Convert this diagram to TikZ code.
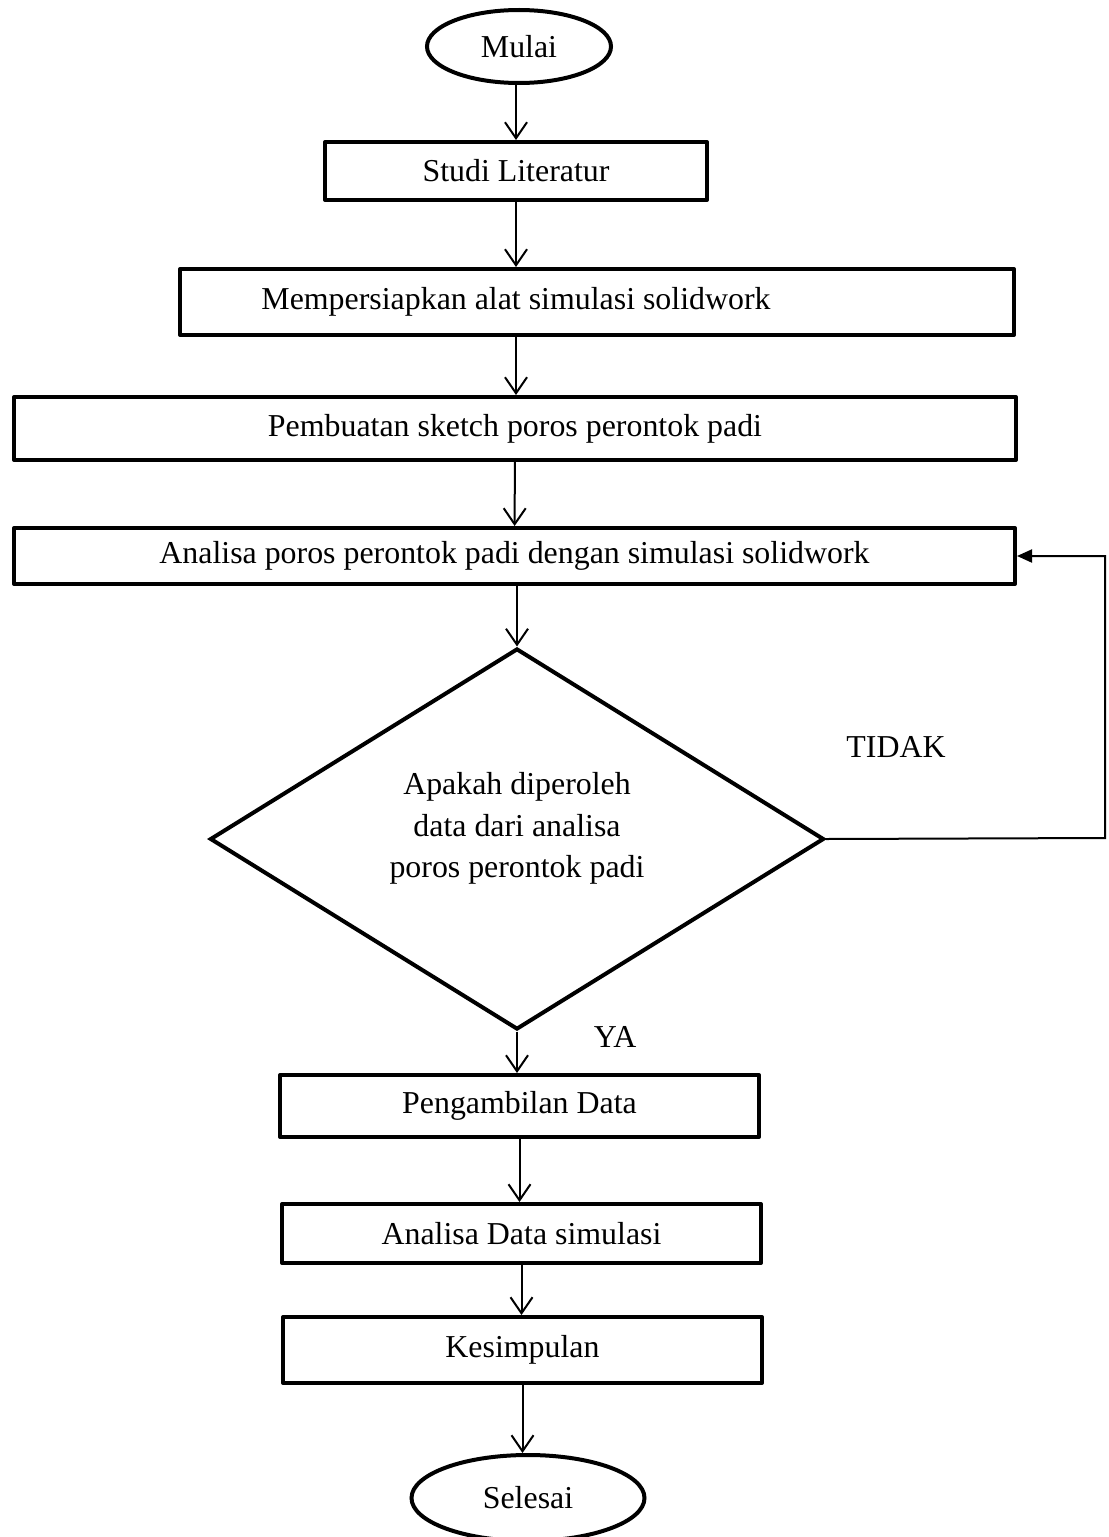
\documentclass[tikz,border=0pt]{standalone}
\usepackage{fontspec}
\setmainfont{Liberation Serif}
\usetikzlibrary{arrows.meta,shapes.geometric}

\begin{document}
\begin{tikzpicture}[x=1bp,y=-1bp,>={Straight Barb[length=16bp,width=22bp]},
  every node/.style={font=\fontsize{32}{42}\selectfont},
  box/.style={draw,line width=4bp,line join=round,rectangle,inner sep=0pt},
  term/.style={draw,line width=4bp,ellipse,inner sep=0pt},
  flow/.style={->,line width=2bp}]
\useasboundingbox (0,0) rectangle (1108,1537);
\clip (0,0) rectangle (1108,1537);
\node[term,minimum width=184bp,minimum height=73bp] (mulai) at (519,46.5) {Mulai};
\node[box,minimum width=382bp,minimum height=58bp] (studi) at (516,171) {Studi Literatur};
\node[box,minimum width=834bp,minimum height=66bp,label={[xshift=-81bp]center:Mempersiapkan alat simulasi solidwork}] (siap) at (597,302) {};
\node[box,minimum width=1002bp,minimum height=63bp] (sketsa) at (515,428.5) {Pembuatan sketch poros perontok padi};
\node[box,minimum width=1001bp,minimum height=56bp] (analisa) at (514.5,556) {Analisa poros perontok padi dengan simulasi solidwork};
\node[draw,line width=4bp,line join=miter,diamond,aspect=1.61,inner sep=0pt,minimum width=614bp,minimum height=381bp,align=center] (cek) at (517,839) {Apakah diperoleh\\data dari analisa\\poros perontok padi\\[-14bp]};
\node[box,minimum width=479bp,minimum height=62bp] (ambil) at (519.5,1106) {Pengambilan Data};
\node[box,minimum width=479bp,minimum height=59bp] (olah) at (521.5,1233.5) {Analisa Data simulasi};
\node[box,minimum width=479bp,minimum height=66bp] (simpul) at (522.5,1350) {Kesimpulan};
\node[term,minimum width=233bp,minimum height=86bp] (selesai) at (528,1498) {Selesai};
\node (tidak) at (896,747) {TIDAK};
\node (ya) at (615,1037) {YA};
\coordinate (balik) at (1105,838);
\draw[flow] (mulai.south -| studi) -- (studi.north);
\draw[flow] (studi) -- (studi |- siap.north);
\draw[flow] (siap.south -| studi) -- (sketsa.north -| studi);
\draw[flow] (sketsa) -- (analisa);
\draw[flow] (analisa.south -| cek) -- (cek.north);
\draw[flow] (cek.south) -- (ambil.north -| cek.south);
\draw[flow] (ambil) -- (ambil |- olah.north);
\draw[flow] (olah) -- (olah |- simpul.north);
\draw[flow] (simpul) -- (simpul |- selesai.north);
\draw[-{Triangle[length=15bp,width=13bp]},line width=2bp] (cek.east) -- (balik) |- (analisa.east);
\end{tikzpicture}
\end{document}
